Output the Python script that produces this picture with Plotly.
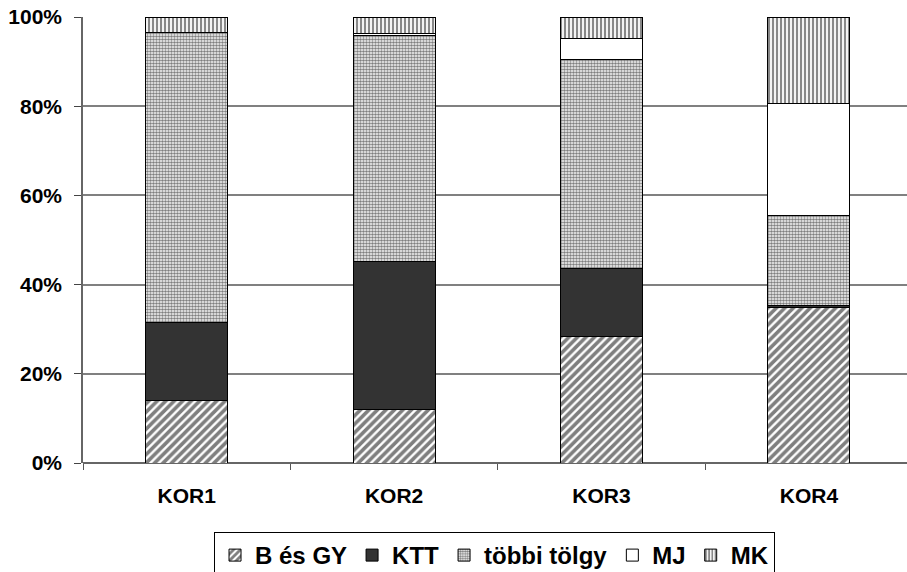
import plotly.graph_objects as go

categories = ["KOR1", "KOR2", "KOR3", "KOR4"]
series_names = ["B és GY", "KTT", "többi tölgy", "MJ", "MK"]
b_es_gy = [14.0, 12.1, 28.3, 34.9]
ktt = [17.6, 33.0, 15.2, 0.5]
tobbi_tolgy = [65.0, 50.8, 46.9, 20.2]
mj = [0.0, 0.5, 4.7, 25.1]
mk = [3.4, 3.6, 4.9, 19.3]
y_ticks = [0, 20, 40, 60, 80, 100]
y_tick_labels = ["0%", "20%", "40%", "60%", "80%", "100%"]

values = [b_es_gy, ktt, tobbi_tolgy, mj, mk]
styles = [
    dict(color="white", pattern=dict(shape="/", fgcolor="black", bgcolor="white", size=6, solidity=0.6)),
    dict(color="#333333"),
    dict(color="white", pattern=dict(shape=".", fgcolor="black", bgcolor="white", size=3, solidity=0.6)),
    dict(color="white"),
    dict(color="white", pattern=dict(shape="|", fgcolor="#111111", bgcolor="white", size=4, solidity=0.55)),
]

fig = go.Figure()
for name, vals, st in zip(series_names, values, styles):
    fig.add_trace(go.Bar(
        x=categories, y=vals, name=name, width=0.396,
        marker=dict(line=dict(color="black", width=1), **st),
    ))

font_bold = dict(family="Liberation Sans, Arial, sans-serif", size=21, color="black", weight="bold")

fig.update_layout(
    barmode="stack",
    width=907, height=572,
    margin=dict(l=83, r=0, t=17, b=109, autoexpand=False),
    plot_bgcolor="white", paper_bgcolor="white",
    font=font_bold,
    showlegend=True,
    legend=dict(
        orientation="h", x=0.159, xanchor="left", y=-0.1547, yanchor="top",
        traceorder="normal", bordercolor="black", borderwidth=1,
        font=dict(family="Liberation Sans, Arial, sans-serif", size=24, color="black", weight="bold"),
        itemwidth=30, tracegroupgap=0,
    ),
    xaxis=dict(
        range=[-0.5, 3.473], showgrid=False, showline=False, automargin=False,
        ticks="outside", tickson="boundaries", ticklen=6, tickcolor="#555555",
        ticklabelstandoff=18, tickfont=font_bold, ticklabeloverflow="allow",
    ),
    yaxis=dict(
        range=[0, 100], tickvals=y_ticks, ticktext=y_tick_labels, automargin=False,
        showgrid=True, gridcolor="#808080", gridwidth=1.5,
        showline=True, linecolor="#666666", linewidth=1.5,
        ticks="outside", ticklen=7, tickcolor="#444444",
        zeroline=True, zerolinecolor="#666666", zerolinewidth=1.5,
        tickfont=font_bold, ticklabelstandoff=8, ticklabeloverflow="allow",
    ),
    bargap=0.6,
)

fig.write_html(
    "out.html",
    config={"displayModeBar": False},
    post_script="document.body.style.margin='0';document.body.style.overflow='hidden';",
)
